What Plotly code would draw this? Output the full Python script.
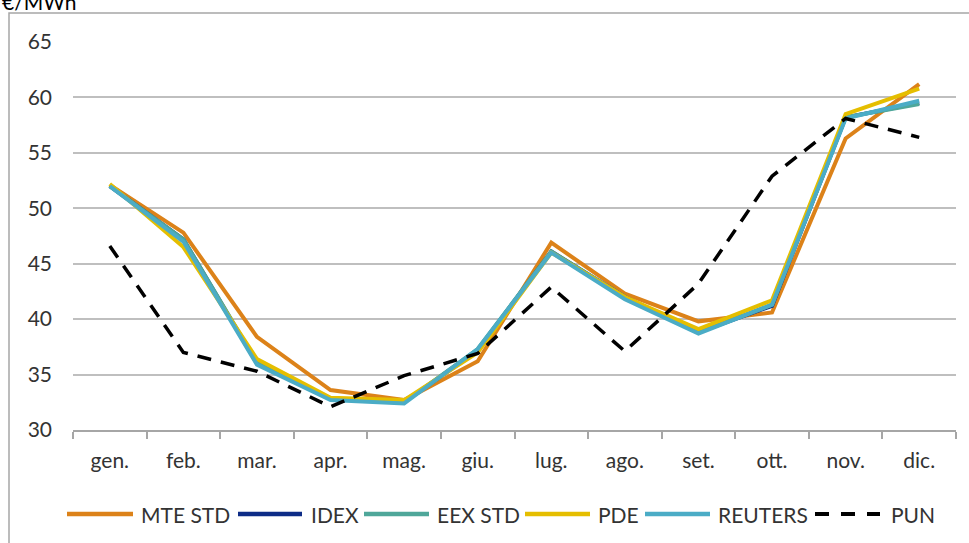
import plotly.graph_objects as go

months = ["gen.", "feb.", "mar.", "apr.", "mag.", "giu.", "lug.", "ago.", "set.", "ott.", "nov.", "dic."]
mte_std = [52.1, 47.8, 38.4, 33.6, 32.7, 36.2, 46.9, 42.3, 39.8, 40.6, 56.3, 61.2]
idex = [52.0, 47.2, 36.0, 32.8, 32.5, 37.2, 46.1, 42.0, 38.8, 41.2, 58.2, 59.5]
eex_std = [52.0, 47.2, 36.1, 32.8, 32.5, 37.3, 46.1, 42.0, 38.8, 41.3, 58.2, 59.4]
pde = [52.2, 46.5, 36.4, 32.9, 32.7, 37.0, 46.0, 42.0, 39.1, 41.7, 58.5, 60.8]
reuters = [52.0, 47.0, 35.9, 32.7, 32.4, 37.3, 46.0, 41.8, 38.7, 41.3, 58.1, 59.7]
pun = [46.6, 37.0, 35.3, 32.1, 34.9, 36.9, 42.9, 37.1, 43.2, 52.9, 58.1, 56.4]
y_ticks = [30, 35, 40, 45, 50, 55, 60, 65]
series_names = ["MTE STD", "IDEX", "EEX STD", "PDE", "REUTERS", "PUN"]

series_values = [mte_std, idex, eex_std, pde, reuters, pun]
colors = ["#DC8219", "#0E2C87", "#4FA79A", "#E5BE00", "#4BACC6", "#000000"]
dashes = ["solid", "solid", "solid", "solid", "solid", "14px,10px"]
widths = [4, 4, 4, 4, 4, 3.5]

FONT = "Lato, Liberation Sans, Arial, sans-serif"
TXT = "#333333"

fig = go.Figure()
for name, vals, color, dash, w in zip(series_names, series_values, colors, dashes, widths):
    fig.add_trace(go.Scatter(
        x=months, y=vals, name=name, mode="lines",
        line=dict(color=color, width=w, dash=dash), showlegend=False,
    ))

W, H = 969, 543
L, R, T, B = 73, 13, 42, 113
pw, ph = W - L - R, H - T - B


def px(x):
    return (x - L) / pw


def py(y):
    return (H - B - y) / ph


shapes = [dict(type="rect", xref="paper", yref="paper",
               x0=px(9), x1=px(1000), y0=py(600), y1=py(13),
               line=dict(color="#A6A6A6", width=1.5), fillcolor="rgba(0,0,0,0)", layer="below")]
annotations = [dict(text="€/MWh", xref="paper", yref="paper", x=px(0), y=py(16),
                    xanchor="left", yanchor="bottom", showarrow=False,
                    font=dict(size=21, color="#000000"))]

# custom legend (Excel-style long line keys)
leg_y = py(514)
leg_lines = [(67, 133), (238, 302), (364, 429), (525, 590), (645, 710), (815, 880)]
leg_text_x = [139, 309, 435, 596, 716, 889]
for i, name in enumerate(series_names):
    x0, x1 = leg_lines[i]
    shapes.append(dict(type="line", xref="paper", yref="paper", x0=px(x0), x1=px(x1),
                       y0=leg_y, y1=leg_y,
                       line=dict(color=colors[i], width=widths[i] + 0.5,
                                 dash="14px,12px" if i == 5 else "solid")))
    annotations.append(dict(text=name, xref="paper", yref="paper", x=px(leg_text_x[i]), y=leg_y,
                            xanchor="left", yanchor="middle", showarrow=False,
                            font=dict(size=21, color=TXT)))

fig.update_layout(
    width=W, height=H,
    margin=dict(l=L, r=R, t=T, b=B, autoexpand=False),
    paper_bgcolor="white", plot_bgcolor="white",
    font=dict(family=FONT, size=21, color=TXT),
    showlegend=False,
    xaxis=dict(
        type="category", range=[-0.5, 11.5], tickson="boundaries", ticks="outside", ticklen=7,
        tickcolor="#A6A6A6", tickwidth=1.5, showline=True, linecolor="#A6A6A6", linewidth=1.5,
        showgrid=False, tickfont=dict(size=21, color=TXT), fixedrange=True,
        ticklabelstandoff=11,
    ),
    yaxis=dict(
        range=[30, 65], tickvals=y_ticks, showgrid=True, gridcolor="#BFBFBF", gridwidth=1.5,
        zeroline=False, showline=False, ticks="", ticklabelstandoff=20,
        tickfont=dict(size=21, color=TXT),
    ),
    shapes=shapes,
    annotations=annotations,
)

fig.write_html("out.html", config={"displayModeBar": False},
               post_script="document.body.style.margin='0';")
